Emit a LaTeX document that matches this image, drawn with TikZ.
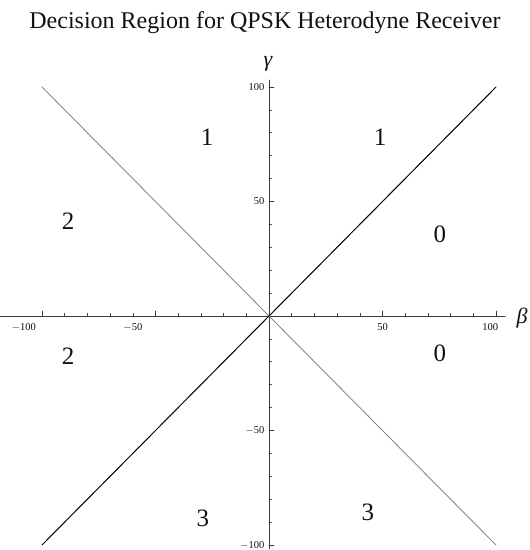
\documentclass[tikz,border=0pt]{standalone}
\usepackage{fontspec}
\setmainfont{Liberation Serif}
\usepackage{xcolor}
\usepackage{tikz}
\usetikzlibrary{positioning}
\definecolor{drInk}{HTML}{111111}
\definecolor{drAxis}{HTML}{3A3A3A}
\definecolor{drGrey}{HTML}{8A8A8A}
\tikzset{
  dr diagram/.style={text=drInk, line cap=round, line join=round},
  dr axis/.style={draw=drAxis, line width=0.9pt},
  dr tick/.style={draw=drAxis, line width=0.6pt},
  dr ticklabel/.style={font=\fontsize{10.5}{10.5}\selectfont, inner sep=1pt},
  dr region/.style={font=\fontsize{25}{25}\selectfont, inner sep=0pt},
  dr boundary/.style={draw=black, line width=1pt},
  dr boundary light/.style={draw=drGrey, line width=0.9pt},
  dr title/.style={font=\fontsize{24}{24}\selectfont},
  dr axislabel/.style={font=\fontsize{22}{22}\selectfont\itshape}
}

\begin{document}
\begin{tikzpicture}[dr diagram, x=1pt, y=1pt]
\useasboundingbox (0,0) rectangle (530,550);
\node[dr title] (title) at (265,527) {Decision Region for QPSK Heterodyne Receiver};
\node[dr axislabel] (gam) at (268,486) {γ};
\node[dr axislabel, anchor=west] (bet) at (513,232) {β};
\begin{scope}[shift={(269,234)}, x=2.27pt, y=2.29pt]
  % axes
  \coordinate (xl) at (-118.5,0);
  \coordinate (xr) at (104,0);
  \coordinate (yb) at (0,-101.5);
  \coordinate (yt) at (0,103);
  \draw[dr axis] (xl) -- (xr);
  \draw[dr axis] (yb) -- (yt);
  \foreach \t in {-100,-90,...,100}{
    \ifnum\t=0\else
      \pgfmathsetmacro\ticklen{mod(\t,50)==0 ? 5 : 2.5}
      \draw[dr tick] (\t,0) -- ++(0pt,\ticklen pt);
      \draw[dr tick] (0,\t) -- ++(\ticklen pt,0pt);
    \fi
  }
  % tick labels
  \node[dr ticklabel] (xm100) at (-108,-5) {$-$100};
  \node[dr ticklabel] (xm50) at (-60,-5) {$-$50};
  \node[dr ticklabel] (x50) at (50,-5) {50};
  \node[dr ticklabel] (x100) at (97.5,-5) {100};
  \node[dr ticklabel, anchor=east] (y100) at (-1.5,100) {100};
  \node[dr ticklabel, anchor=east] (y50) at (-1.5,50) {50};
  \node[dr ticklabel, anchor=east] (ym50) at (-1.5,-50) {$-$50};
  \node[dr ticklabel, anchor=east] (ym100) at (-1.5,-100) {$-$100};
  % decision boundaries
  \coordinate (ul) at (-100,100);
  \coordinate (lr) at (100,-100);
  \coordinate (ll) at (-100,-100);
  \coordinate (ur) at (100,100);
  \draw[dr boundary light] (ul) -- (lr);
  \draw[dr boundary] (ll) -- (ur);
  % symbol regions
  \node[dr region] (r1a) at (-27.3,78.2) {1};
  \node[dr region] (r1b) at (48.9,78.2) {1};
  \node[dr region] (r2a) at (-88.5,41.5) {2};
  \node[dr region] (r2b) at (-88.5,-17.5) {2};
  \node[dr region] (r0a) at (75.3,35.8) {0};
  \node[dr region] (r0b) at (75.3,-16.2) {0};
  \node[dr region] (r3a) at (-29.1,-88.2) {3};
  \node[dr region] (r3b) at (43.6,-85.6) {3};
\end{scope}
\end{tikzpicture}
\end{document}
